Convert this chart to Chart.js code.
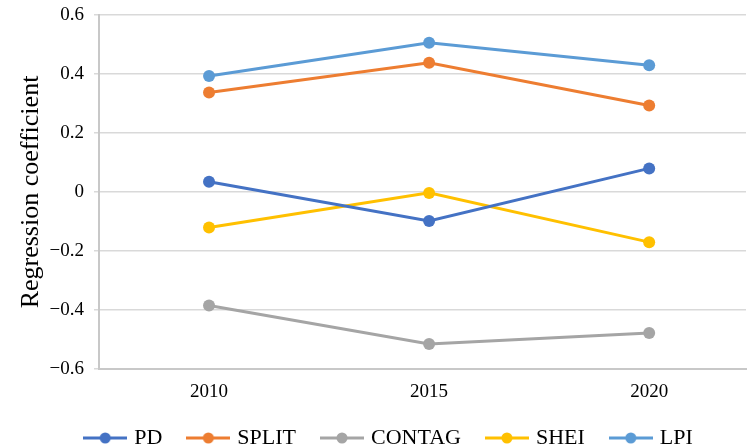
<!DOCTYPE html>
<html>
<head>
<meta charset="utf-8">
<script src="https://cdn.jsdelivr.net/npm/chart.js@4"></script>
<style>
    html, body { margin: 0; padding: 0; background: #ffffff; overflow: hidden; }
    #wrap { width: 752px; height: 448px; }
</style>
</head>
<body>
<div id="wrap"><canvas id="regressionGraph" width="752" height="448"></canvas></div>
<script>
var years = [2010, 2015, 2020];
var seriesNames = ["PD", "SPLIT", "CONTAG", "SHEI", "LPI"];
var seriesColors = ["#4472C4", "#ED7D31", "#A5A5A5", "#FFC000", "#5B9BD5"];
var pdValues = [0.035, -0.098, 0.08];
var splitValues = [0.337, 0.438, 0.293];
var contagValues = [-0.385, -0.515, -0.478];
var sheiValues = [-0.12, -0.003, -0.17];
var lpiValues = [0.393, 0.506, 0.43];
var yTicks = [-0.6, -0.4, -0.2, 0, 0.2, 0.4, 0.6];

var allValues = [pdValues, splitValues, contagValues, sheiValues, lpiValues];

// legend icon: short line with a dot in the middle
function make_legend_icon(color) {
    var c = document.createElement("canvas");
    c.width = 44;
    c.height = 14;
    var ctx = c.getContext("2d");
    ctx.strokeStyle = color;
    ctx.lineWidth = 3;
    ctx.beginPath();
    ctx.moveTo(0, 7);
    ctx.lineTo(44, 7);
    ctx.stroke();
    ctx.fillStyle = color;
    ctx.beginPath();
    ctx.arc(22, 7, 5.5, 0, Math.PI * 2);
    ctx.fill();
    return c;
}

var legendIcons = seriesColors.map(make_legend_icon);

var datasets = [];
for (var i = 0; i < seriesNames.length; i++) {
    datasets.push({
        label: seriesNames[i],
        data: years.map(function (y, j) { return { x: y, y: allValues[i][j] }; }),
        borderColor: seriesColors[i],
        backgroundColor: seriesColors[i],
        borderWidth: 3,
        pointRadius: 6,
        pointHoverRadius: 6,
        pointBorderWidth: 0,
        tension: 0,
    });
}

function format_tick(v) {
    if (Math.abs(v) < 1e-9) return "0";
    if (v < 0) return "\u2212" + Math.abs(v).toFixed(1);
    return v.toFixed(1);
}

var serif = "'Liberation Serif', 'Times New Roman', serif";

var config = {
    type: "line",
    data: { datasets: datasets },
    options: {
        responsive: false,
        animation: false,
        layout: { padding: { left: 28, right: 0, top: 0, bottom: -11 } },
        plugins: {
            tooltip: { enabled: false },
            legend: {
                position: "bottom",
                labels: {
                    usePointStyle: true,
                    pointStyleWidth: 36,
                    boxHeight: 14,
                    padding: 28,
                    color: "#000000",
                    font: { family: serif, size: 22 },
                    generateLabels: function (chart) {
                        var items = Chart.defaults.plugins.legend.labels.generateLabels(chart);
                        items.forEach(function (item) {
                            item.pointStyle = legendIcons[item.datasetIndex];
                        });
                        return items;
                    },
                },
            },
        },
        scales: {
            x: {
                type: "linear",
                min: 2007.5,
                max: 2022.2,
                afterBuildTicks: function (axis) {
                    axis.ticks = years.map(function (y) { return { value: y }; });
                },
                afterFit: function (axis) {
                    axis.height = 30;
                },
                ticks: {
                    color: "#000000",
                    font: { family: serif, size: 19 },
                    padding: 4,
                    callback: function (value) { return String(value); },
                },
                grid: { display: false },
                border: { display: true, color: "#c8c8c8", width: 2 },
            },
            y: {
                min: -0.6,
                max: 0.6,
                afterBuildTicks: function (axis) {
                    axis.ticks = yTicks.map(function (v) { return { value: v }; });
                },
                afterFit: function (axis) {
                    axis.width = 71;
                    axis.paddingTop = 15;
                    axis.paddingBottom = 12;
                },
                ticks: {
                    color: "#000000",
                    font: { family: serif, size: 19 },
                    padding: 10,
                    callback: function (value) { return format_tick(value); },
                },
                grid: { color: "#d9d9d9", lineWidth: 1.5, tickLength: 5 },
                border: { display: true, color: "#c8c8c8", width: 2 },
                title: {
                    display: true,
                    text: "Regression coefficient",
                    color: "#000000",
                    font: { family: serif, size: 26 },
                    padding: { top: -12, bottom: 0 },
                },
            },
        },
    },
};

var regressionGraph = new Chart("regressionGraph", config);
</script>
</body>
</html>
